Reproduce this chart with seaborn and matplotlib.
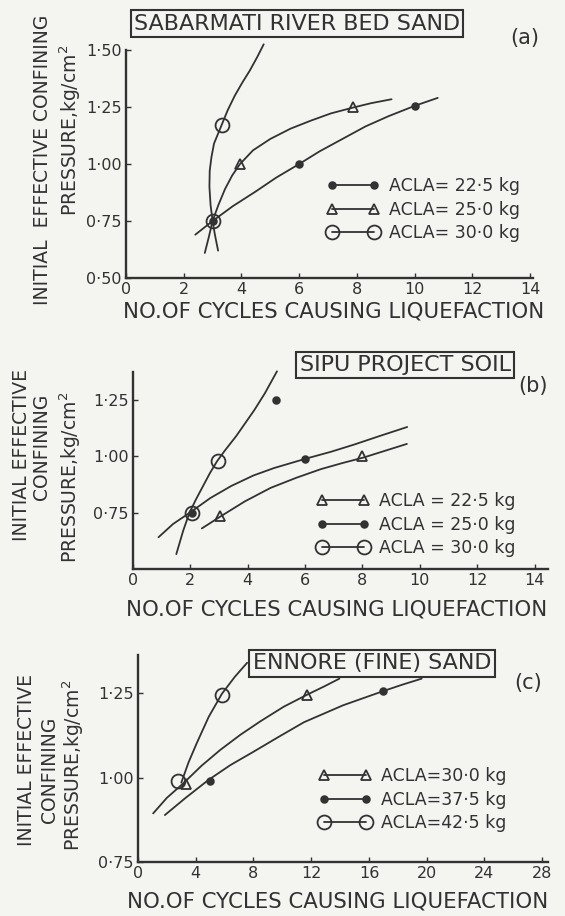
import matplotlib
matplotlib.use("Agg")
import matplotlib.pyplot as plt
from matplotlib.lines import Line2D
from matplotlib.legend_handler import HandlerLine2D
import seaborn as sns

a_x_225 = [2.4, 3.0, 3.7, 4.5, 5.2, 6.0, 6.7, 7.5, 8.3, 9.1, 10.0, 10.8]
a_y_225 = [0.69, 0.75, 0.815, 0.88, 0.94, 1.00, 1.055, 1.11, 1.165, 1.21, 1.255, 1.29]
a_px_225 = [3.0, 6.0, 10.0]
a_py_225 = [0.75, 1.00, 1.255]

a_x_250 = [2.73, 2.87, 3.0, 3.2, 3.43, 3.68, 3.95, 4.4, 5.0, 5.7, 6.4, 7.1, 7.85, 8.5, 9.2]
a_y_250 = [0.61, 0.68, 0.75, 0.82, 0.89, 0.95, 1.00, 1.06, 1.11, 1.155, 1.19, 1.222, 1.247, 1.267, 1.284]
a_px_250 = [3.95, 7.85]
a_py_250 = [1.00, 1.25]

a_x_300 = [3.19, 3.08, 3.0, 2.93, 2.89, 2.90, 2.96, 3.05, 3.18, 3.31, 3.52, 3.77, 4.02, 4.29, 4.55, 4.77]
a_y_300 = [0.62, 0.69, 0.75, 0.82, 0.90, 0.97, 1.03, 1.09, 1.13, 1.17, 1.235, 1.30, 1.355, 1.41, 1.47, 1.525]
a_px_300 = [3.0, 3.31]
a_py_300 = [0.75, 1.17]

# ---- (b) Sipu project soil ----
b_x_225 = [2.4, 3.05, 3.9, 4.8, 5.7, 6.55, 7.3, 8.05, 8.8, 9.55]
b_y_225 = [0.68, 0.733, 0.80, 0.86, 0.905, 0.943, 0.97, 0.995, 1.025, 1.055]
b_px_225 = [3.05, 8.0]
b_py_225 = [0.735, 1.00]

b_x_250 = [0.89, 1.4, 1.97, 2.7, 3.42, 4.2, 4.92, 6.04, 6.9, 7.71, 8.6, 9.56]
b_y_250 = [0.641, 0.70, 0.749, 0.815, 0.868, 0.915, 0.948, 0.99, 1.02, 1.052, 1.09, 1.13]
b_px_250 = [2.05, 6.0, 5.0]
b_py_250 = [0.75, 0.99, 1.25]

b_x_300 = [1.51, 1.75, 1.97, 2.2, 2.43, 2.68, 2.93, 3.2, 3.6, 4.23, 4.6, 5.02]
b_y_300 = [0.566, 0.67, 0.75, 0.81, 0.865, 0.925, 0.978, 1.025, 1.09, 1.205, 1.28, 1.377]
b_px_300 = [2.05, 2.95]
b_py_300 = [0.75, 0.98]

# ---- (c) Ennore (fine) sand ----
c_x_300 = [1.05, 2.0, 3.14, 4.4, 5.7, 7.1, 8.49, 10.1, 11.74, 12.9, 13.95]
c_y_300 = [0.894, 0.94, 0.983, 1.035, 1.082, 1.127, 1.167, 1.21, 1.246, 1.27, 1.293]
c_px_300 = [3.3, 11.7]
c_py_300 = [0.98, 1.245]

c_x_375 = [1.86, 3.3, 4.88, 6.4, 8.02, 9.8, 11.5, 14.2, 16.98, 18.3, 19.65]
c_y_375 = [0.889, 0.94, 0.993, 1.037, 1.077, 1.122, 1.164, 1.214, 1.256, 1.275, 1.293]
c_px_375 = [5.0, 17.0]
c_py_375 = [0.99, 1.255]

c_x_425 = [3.0, 3.5, 4.07, 4.9, 5.81, 6.7, 7.56]
c_y_425 = [0.985, 1.045, 1.102, 1.18, 1.248, 1.298, 1.34]
c_px_425 = [2.75, 5.8]
c_py_425 = [0.99, 1.245]

legend_a = ["ACLA= 22·5 kg", "ACLA= 25·0 kg", "ACLA= 30·0 kg"]
legend_b = ["ACLA = 22·5 kg", "ACLA = 25·0 kg", "ACLA = 30·0 kg"]
legend_c = ["ACLA=30·0 kg", "ACLA=37·5 kg", "ACLA=42·5 kg"]

INK = "#323232"
PAPER = "#f4f4f1"
W, H = 565, 916

sns.set_style("ticks")
plt.rcParams["font.family"] = ["DejaVu Sans"]

estilos = {
    "dot": dict(marker="o", markersize=4.8, markerfacecolor=INK),
    "tri": dict(marker="^", markersize=6.5, markerfacecolor="none"),
    "ring": dict(marker="o", markersize=10, markerfacecolor="none"),
}


def fx(px):
    return px / W


def fy(py):
    return 1 - py / H


fig = plt.figure(figsize=(W / 100, H / 100), dpi=100, facecolor=PAPER)


def panel(left, top, right, bottom, xlim, ylim, xticks, yticks):
    ax = fig.add_axes([fx(left), fy(bottom), (right - left) / W, (bottom - top) / H])
    ax.set_facecolor(PAPER)
    ax.set_xlim(*xlim)
    ax.set_ylim(*ylim)
    ax.set_xticks(xticks)
    ax.set_xticklabels([str(v) for v in xticks])
    ax.set_yticks(yticks)
    ax.set_yticklabels([f"{v:.2f}".replace(".", "·") for v in yticks])
    ax.tick_params(direction="in", length=3.5, width=1, colors=INK, labelsize=11.5, pad=3)
    for s in ["top", "right"]:
        ax.spines[s].set_visible(False)
    for s in ["left", "bottom"]:
        ax.spines[s].set_linewidth(1.7)
        ax.spines[s].set_color(INK)
    return ax


def curva(ax, cx, cy, px, py, estilo):
    sns.lineplot(x=cx, y=cy, ax=ax, sort=False, estimator=None, color=INK,
                 linewidth=1.3, clip_on=False)
    sns.lineplot(x=px, y=py, ax=ax, sort=False, estimator=None, color=INK,
                 linestyle="", markeredgecolor=INK, markeredgewidth=1.3,
                 clip_on=False, **estilos[estilo])


def leyenda(ax, etiquetas, orden, xpx, ypx):
    handles = [Line2D([0], [0], color=INK, linewidth=1.3, markeredgecolor=INK,
                      markeredgewidth=1.3, **estilos[e]) for e in orden]
    ax.legend(handles, etiquetas, loc="upper left", bbox_to_anchor=(fx(xpx), fy(ypx)),
              bbox_transform=fig.transFigure, frameon=False, numpoints=2,
              handlelength=2.4, handletextpad=0.9, labelspacing=0.33,
              borderpad=0, borderaxespad=0, fontsize=12.5, labelcolor=INK,
              handler_map={Line2D: HandlerLine2D(marker_pad=0)})


def textos(ylines, xlab, titulo, letra):
    for txt, x, y in ylines:
        fig.text(fx(x), fy(y), txt, rotation=90, ha="center", va="center",
                 fontsize=13.5, color=INK)
    fig.text(fx(xlab[0]), fy(xlab[1]), "NO.OF CYCLES CAUSING LIQUEFACTION",
             ha="center", va="center", fontsize=15.3, color=INK)
    fig.text(fx(titulo[1]), fy(titulo[2]), titulo[0], ha="center", va="center",
             fontsize=16, color=INK,
             bbox=dict(boxstyle="square,pad=0.15", facecolor="none", edgecolor=INK, linewidth=1.5))
    fig.text(fx(letra[1]), fy(letra[2]), letra[0], ha="center", va="center",
             fontsize=15, color=INK)


# (a)
ax_a = panel(126, 50, 533, 278, (0, 14.1), (0.5, 1.5), list(range(0, 15, 2)),
             [0.50, 0.75, 1.00, 1.25, 1.50])
curva(ax_a, a_x_225, a_y_225, a_px_225, a_py_225, "dot")
curva(ax_a, a_x_250, a_y_250, a_px_250, a_py_250, "tri")
curva(ax_a, a_x_300, a_y_300, a_px_300, a_py_300, "ring")
leyenda(ax_a, legend_a, ["dot", "tri", "ring"], 332, 177)
textos([("INITIAL  EFFECTIVE CONFINING", 43, 160), ("PRESSURE,kg/cm$^2$", 70, 130)],
       (334, 312), ("SABARMATI RIVER BED SAND", 297, 23.5), ("(a)", 525, 38))

# (b)
ax_b = panel(133, 372, 548, 569, (0, 14.47), (0.5, 1.374), list(range(0, 15, 2)),
             [0.75, 1.00, 1.25])
curva(ax_b, b_x_225, b_y_225, b_px_225, b_py_225, "tri")
curva(ax_b, b_x_250, b_y_250, b_px_250, b_py_250, "dot")
curva(ax_b, b_x_300, b_y_300, b_px_300, b_py_300, "ring")
leyenda(ax_b, legend_b, ["tri", "dot", "ring"], 322, 492)
textos([("INITIAL EFFECTIVE", 22, 455), ("CONFINING", 42, 447), ("PRESSURE,kg/cm$^2$", 70, 477)],
       (337, 609), ("SIPU PROJECT SOIL", 405, 365), ("(b)", 533, 386))

# (c)
ax_c = panel(138, 655, 548, 862, (0, 28.4), (0.75, 1.363), list(range(0, 29, 4)),
             [0.75, 1.00, 1.25])
curva(ax_c, c_x_300, c_y_300, c_px_300, c_py_300, "tri")
curva(ax_c, c_x_375, c_y_375, c_px_375, c_py_375, "dot")
curva(ax_c, c_x_425, c_y_425, c_px_425, c_py_425, "ring")
leyenda(ax_c, legend_c, ["tri", "dot", "ring"], 324, 767)
textos([("INITIAL EFFECTIVE", 27, 760), ("CONFINING", 50, 770), ("PRESSURE,kg/cm$^2$", 73, 765)],
       (338, 902), ("ENNORE (FINE) SAND", 372, 663.5), ("(c)", 528, 683))

fig.savefig("out.png", dpi=100, facecolor=PAPER)
